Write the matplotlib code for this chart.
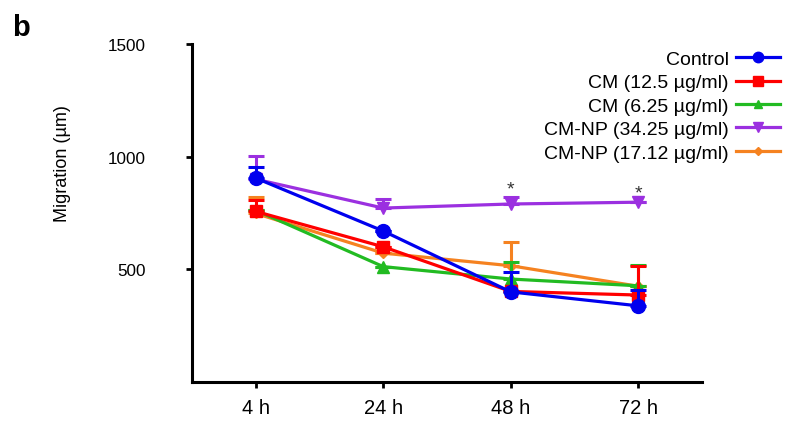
import matplotlib
matplotlib.use('Agg')
import matplotlib.pyplot as plt
import numpy as np

plt.rcParams['font.family'] = ['Liberation Sans', 'DejaVu Sans']

times = ['4 h', '24 h', '48 h', '72 h']
labels = ['Control', 'CM (12.5 µg/ml)', 'CM (6.25 µg/ml)',
          'CM-NP (34.25 µg/ml)', 'CM-NP (17.12 µg/ml)']

control = [905, 670, 400, 338]
cm_125 = [757, 600, 402, 386]
cm_625 = [762, 512, 457, 427]
cmnp_3425 = [900, 772, 790, 798]
cmnp_1712 = [748, 572, 516, 425]

control_err = [50, 0, 88, 70]
cm_125_err = [50, 0, 0, 130]
cm_625_err = [0, 0, 76, 93]
cmnp_3425_err = [105, 42, 30, 0]
cmnp_1712_err = [75, 0, 107, 0]

star_pos = [2, 3]
star_y = [855, 838]

series = [
    (cmnp_1712, cmnp_1712_err, '#f58220', 'D', 5),
    (cmnp_3425, cmnp_3425_err, '#9b30e0', 'v', 9),
    (cm_625, cm_625_err, '#22bb22', '^', 8),
    (cm_125, cm_125_err, '#ff0000', 's', 9),
    (control, control_err, '#0000ee', 'o', 10),
]
names = labels[::-1]

fig = plt.figure(figsize=(7.85, 4.27), dpi=100)
ax = fig.add_axes([0.2446, 0.103, 0.6497, 0.7916])

x = np.arange(len(times))
handles = {}
for (vals, err, col, mk, ms), name in zip(series, names):
    vals = np.array(vals, dtype=float)
    err = np.array(err, dtype=float)
    ax.errorbar(x, vals, yerr=[np.zeros_like(err), err], fmt='none',
                ecolor=col, elinewidth=2.2, capsize=5.8, capthick=2.2)
    h, = ax.plot(x, vals, color=col, lw=2.3, marker=mk, ms=ms, label=name)
    handles[name] = h

for xs, ys in zip(star_pos, star_y):
    ax.text(xs, ys, '*', ha='center', va='center', fontsize=14, color='#333333')

ax.set_xlim(-0.5, 3.5)
ax.set_ylim(0, 1500)
ax.set_xticks(x)
ax.set_xticklabels(times)
ax.set_yticks([500, 1000, 1500])
ax.set_yticklabels(['500', '1000', '1500'])
ax.spines['top'].set_visible(False)
ax.spines['right'].set_visible(False)
for s in ['left', 'bottom']:
    ax.spines[s].set_linewidth(2.2)
ax.tick_params(axis='both', width=2.0, length=4.5, color='black')
ax.tick_params(axis='y', pad=28.5, labelsize=12.3)
ax.tick_params(axis='x', pad=7, labelsize=14.5)
ax.set_ylabel('Migration (µm)', fontsize=13)
ax.yaxis.set_label_coords(-0.237, 0.65)

ax.legend([handles[n] for n in labels], labels, markerfirst=False, frameon=False,
          fontsize=14, handlelength=2.3, labelspacing=0.3, handletextpad=0.35,
          markerscale=0.75,
          loc='upper right', bbox_to_anchor=(1.004, 0.898),
          bbox_transform=fig.transFigure, borderaxespad=0)

fig.text(0.016, 0.915, 'b', fontsize=21, fontweight='bold')

plt.savefig('out.png', dpi=100)
